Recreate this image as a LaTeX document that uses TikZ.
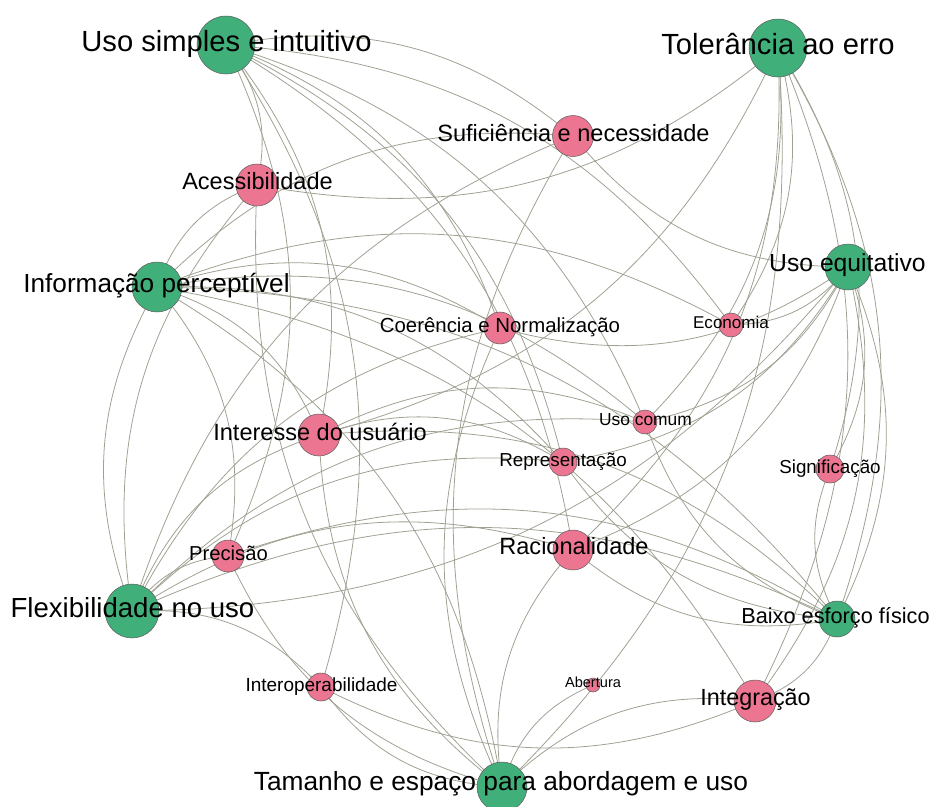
\documentclass[tikz,border=0pt]{standalone}
\usepackage{fontspec}
\setmainfont{Liberation Sans}
\pgfdeclarelayer{bg}
\pgfsetlayers{bg,main}
\definecolor{gc}{RGB}{65,175,122}
\definecolor{pc}{RGB}{236,118,145}
\definecolor{ec}{RGB}{160,160,146}
\definecolor{bc}{RGB}{95,95,95}
\begin{document}
\begin{tikzpicture}[x=0.02cm,y=-0.02cm,
  edge/.style={draw=ec,line width=0.45pt},
  curv/.style={bend left=25},
  gnode/.style={circle,fill=gc,draw=bc,line width=0.3pt,inner sep=0pt},
  pnode/.style={circle,fill=pc,draw=bc,line width=0.3pt,inner sep=0pt},
  lbl/.style={anchor=base,inner sep=0pt,text=black}]
\useasboundingbox (0,0) rectangle (933,806);
% green nodes
\node[gnode,minimum size=1.16cm] (US) at (226,45) {};
\node[gnode,minimum size=1.16cm] (TE) at (778,48) {};
\node[gnode,minimum size=0.92cm] (UE) at (848,267) {};
\node[gnode,minimum size=1.00cm] (IP) at (157,287) {};
\node[gnode,minimum size=1.08cm] (FX) at (132,611) {};
\node[gnode,minimum size=0.72cm] (BE) at (837,619) {};
\node[gnode,minimum size=1.00cm] (TA) at (502,787) {};
% pink nodes
\node[pnode,minimum size=0.82cm] (SN) at (573,136) {};
\node[pnode,minimum size=0.84cm] (AC) at (257,185) {};
\node[pnode,minimum size=0.64cm] (CN) at (500,328) {};
\node[pnode,minimum size=0.48cm] (EC) at (731,325) {};
\node[pnode,minimum size=0.48cm] (UC) at (645,422) {};
\node[pnode,minimum size=0.84cm] (IU) at (319,435) {};
\node[pnode,minimum size=0.56cm] (RE) at (563,462) {};
\node[pnode,minimum size=0.56cm] (SI) at (830,469) {};
\node[pnode,minimum size=0.80cm] (RA) at (573,550) {};
\node[pnode,minimum size=0.64cm] (PR) at (228,556) {};
\node[pnode,minimum size=0.56cm] (IO) at (321,687) {};
\node[pnode,minimum size=0.28cm] (AB) at (593,685) {};
\node[pnode,minimum size=0.84cm] (IG) at (755,701) {};
% edges
\begin{pgfonlayer}{bg}
\foreach \a/\b in {US/SN,US/AC,US/IU,US/CN,US/RE,US/UC,US/EC,US/RA,US/IO,US/PR,
  TE/AC,TE/IU,TE/EC,TE/UC,TE/RA,TE/TA,TE/SI,TE/BE,TE/IG,
  UE/SN,UE/CN,UE/EC,UE/UC,UE/RA,UE/SI,UE/BE,UE/IG,UE/RE,UE/FX,
  IP/AC,IP/SN,IP/CN,IP/EC,IP/IU,IP/RE,IP/PR,IP/UC,IP/BE,IP/IG,IP/TA,
  FX/IP,FX/AC,FX/PR,FX/IU,FX/RE,FX/UC,FX/CN,FX/SN,FX/IO,FX/RA,FX/BE,
  PR/BE,BE/RA,IU/BE,BE/SI,BE/IG,BE/RE,BE/UC,IU/RE,IU/UC,
  TA/IO,TA/PR,TA/AB,TA/IG,TA/RA,TA/IU,TA/AC,TA/SN,TA/CN,
  IG/IO}
  \draw[edge] (\a.center) to[curv] (\b.center);
\end{pgfonlayer}
% labels
\node[lbl,font=\fontsize{16.6}{19}\selectfont] (lUS) at (226.5,51.5) {Uso simples e intuitivo};
\node[lbl,font=\fontsize{16.6}{19}\selectfont] (lTE) at (778,54) {Tolerância ao erro};
\node[lbl,font=\fontsize{14.06}{16}\selectfont] (lUE) at (847.5,271.5) {Uso equitativo};
\node[lbl,font=\fontsize{14.9}{17}\selectfont] (lIP) at (156.5,292.5) {Informação perceptível};
\node[lbl,font=\fontsize{15.7}{18}\selectfont] (lFX) at (132.5,617) {Flexibilidade no uso};
\node[lbl,font=\fontsize{12.36}{14}\selectfont] (lBE) at (835.5,623.5) {Baixo esforço físico};
\node[lbl,font=\fontsize{14.97}{17}\selectfont] (lTA) at (501,790.5) {Tamanho e espaço para abordagem e uso};
\node[lbl,font=\fontsize{13.4}{15}\selectfont] (lSN) at (573.5,141.5) {Suficiência e necessidade};
\node[lbl,font=\fontsize{13.4}{15}\selectfont] (lAC) at (257.5,189.5) {Acessibilidade};
\node[lbl,font=\fontsize{11.6}{13}\selectfont] (lCN) at (500,332.5) {Coerência e Normalização};
\node[lbl,font=\fontsize{9.7}{11}\selectfont] (lEC) at (731,328.5) {Economia};
\node[lbl,font=\fontsize{9.9}{11}\selectfont] (lUC) at (645.5,425.7) {Uso comum};
\node[lbl,font=\fontsize{13.4}{15}\selectfont] (lIU) at (320,440) {Interesse do usuário};
\node[lbl,font=\fontsize{10.7}{12}\selectfont] (lRE) at (563,466.5) {Representação};
\node[lbl,font=\fontsize{10.7}{12}\selectfont] (lSI) at (830,473.3) {Significação};
\node[lbl,font=\fontsize{13.4}{15}\selectfont] (lRA) at (574,554.5) {Racionalidade};
\node[lbl,font=\fontsize{11.5}{13}\selectfont] (lPR) at (228.5,560.7) {Precisão};
\node[lbl,font=\fontsize{10.8}{12}\selectfont] (lIO) at (321.5,691.5) {Interoperabilidade};
\node[lbl,font=\fontsize{8.3}{10}\selectfont] (lAB) at (593,687.8) {Abertura};
\node[lbl,font=\fontsize{13.3}{15}\selectfont] (lIG) at (755.5,705.7) {Integração};
\end{tikzpicture}
\end{document}
